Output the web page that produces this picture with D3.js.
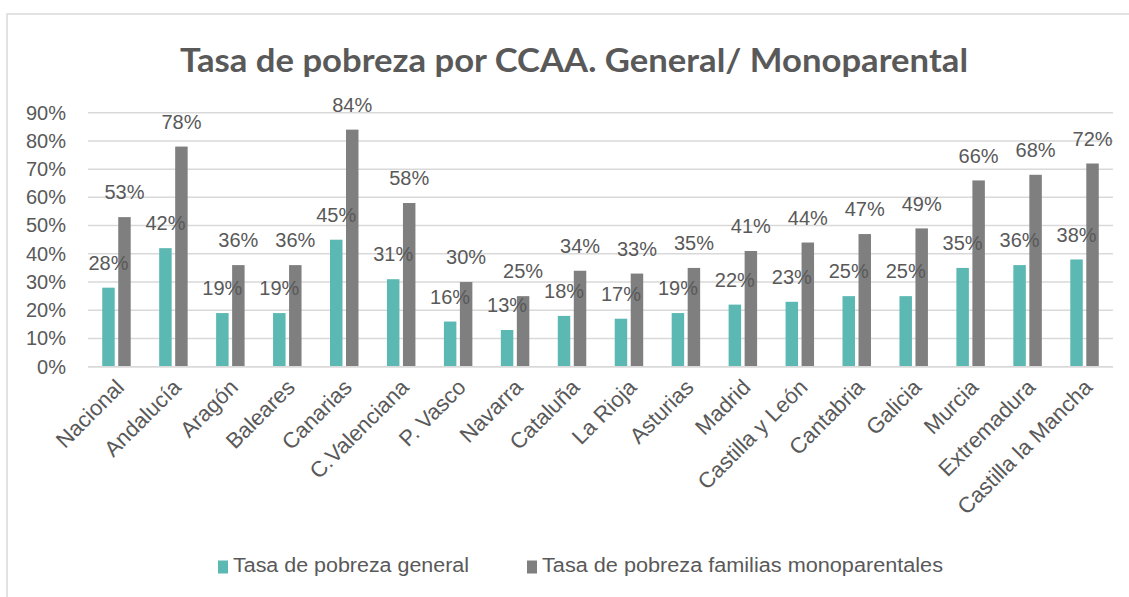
<!DOCTYPE html>
<html>
<head>
<meta charset="utf-8">
<script src="https://cdn.jsdelivr.net/npm/d3@7"></script>
<style>
  html, body { margin: 0; padding: 0; background: #fff; }
</style>
</head>
<body>
<script>
'use strict';

// data
const categories = ['Nacional', 'Andalucía', 'Aragón', 'Baleares', 'Canarias', 'C.Valenciana',
  'P. Vasco', 'Navarra', 'Cataluña', 'La Rioja', 'Asturias', 'Madrid', 'Castilla y León',
  'Cantabria', 'Galicia', 'Murcia', 'Extremadura', 'Castilla la Mancha'];
const general = [0.28, 0.42, 0.19, 0.19, 0.45, 0.31, 0.16, 0.13, 0.18, 0.17, 0.19, 0.22, 0.23, 0.25, 0.25, 0.35, 0.36, 0.38];
const monoparental = [0.53, 0.78, 0.36, 0.36, 0.84, 0.58, 0.30, 0.25, 0.34, 0.33, 0.35, 0.41, 0.44, 0.47, 0.49, 0.66, 0.68, 0.72];
const seriesNames = ['Tasa de pobreza general', 'Tasa de pobreza familias monoparentales'];
const yTicks = [0, 0.1, 0.2, 0.3, 0.4, 0.5, 0.6, 0.7, 0.8, 0.9];

const W = 1129, H = 597;
const TEXT = '#595959';
const COLORS = ['#5BB8B2', '#7F7F7F'];
const GRID = '#D9D9D9';
const FONT = '"Liberation Sans", Arial, sans-serif';

const svg = d3.select('body').append('svg')
  .attr('width', W).attr('height', H)
  .attr('viewBox', `0 0 ${W} ${H}`);
svg.append('rect').attr('width', W).attr('height', H).attr('fill', '#fff');

// chart frame (runs off the right / bottom)
svg.append('rect')
  .attr('x', 7).attr('y', 14).attr('width', W + 10).attr('height', H + 10)
  .attr('fill', 'none').attr('stroke', GRID).attr('stroke-width', 1.5);

// title
svg.append('text')
  .attr('x', 574).attr('y', 72)
  .attr('text-anchor', 'middle')
  .attr('font-family', 'Lato, "Open Sans", sans-serif')
  .attr('font-weight', 700).attr('font-size', 33)
  .attr('fill', TEXT)
  .attr('textLength', 788).attr('lengthAdjust', 'spacingAndGlyphs')
  .text('Tasa de pobreza por CCAA. General/ Monoparental');

const plot = { left: 88, right: 1113, top: 112.7, bottom: 366.7 };

const y = d3.scaleLinear().domain([0, 0.9]).range([plot.bottom, plot.top]);
const x0 = d3.scaleBand().domain(categories).range([plot.left, plot.right]).padding(0);
const step = x0.step();
const x1 = d3.scaleBand().domain([0, 1]).range([step * 0.25, step * 0.75]).paddingInner(0.22);

// gridlines
svg.append('g').selectAll('line').data(yTicks).join('line')
  .attr('x1', plot.left).attr('x2', plot.right)
  .attr('y1', d => y(d)).attr('y2', d => y(d))
  .attr('stroke', GRID).attr('stroke-width', 1.5);

// y axis labels
const yAxis = svg.append('g')
  .attr('transform', `translate(${plot.left - 22},0)`)
  .call(d3.axisLeft(y).tickValues(yTicks).tickFormat(d3.format('.0%')).tickSize(0).tickPadding(0));
yAxis.select('.domain').remove();
yAxis.selectAll('text')
  .attr('font-family', FONT).attr('font-size', 20).attr('fill', TEXT);

// x axis labels
const xAxis = svg.append('g')
  .attr('transform', `translate(0,${plot.bottom})`)
  .call(d3.axisBottom(x0).tickSize(0).tickPadding(0));
xAxis.select('.domain').remove();
xAxis.selectAll('text')
  .attr('font-family', FONT).attr('font-size', 22).attr('fill', TEXT)
  .attr('text-anchor', 'end')
  .attr('dy', null)
  .attr('transform', 'translate(9,22) rotate(-45)');

// bars
const data = [general, monoparental];
const groups = svg.append('g').selectAll('g').data(categories).join('g')
  .attr('transform', d => `translate(${x0(d)},0)`);

groups.selectAll('rect')
  .data((d, i) => data.map((s, k) => ({ k, v: s[i] })))
  .join('rect')
  .attr('x', d => x1(d.k))
  .attr('width', x1.bandwidth())
  .attr('y', d => y(d.v))
  .attr('height', d => y(0) - y(d.v))
  .attr('fill', d => COLORS[d.k]);

groups.selectAll('text.lbl')
  .data((d, i) => data.map((s, k) => ({ k, v: s[i] })))
  .join('text')
  .attr('class', 'lbl')
  .attr('x', d => x1(d.k) + x1.bandwidth() / 2)
  .attr('y', d => y(d.v) - 23)
  .attr('text-anchor', 'middle')
  .attr('dominant-baseline', 'middle')
  .attr('font-family', FONT).attr('font-size', 20)
  .attr('fill', TEXT)
  .text(d => d3.format('.0%')(d.v));

// redraw x baseline on top of bars
svg.append('line')
  .attr('x1', plot.left).attr('x2', plot.right)
  .attr('y1', plot.bottom).attr('y2', plot.bottom)
  .attr('stroke', GRID).attr('stroke-width', 1.5);

// legend
const legendItems = [
  { name: seriesNames[0], color: COLORS[0], x: 218, len: 236 },
  { name: seriesNames[1], color: COLORS[1], x: 527, len: 401 }
];
const lg = svg.append('g').selectAll('g').data(legendItems).join('g')
  .attr('transform', d => `translate(${d.x},567)`);
lg.append('rect')
  .attr('x', 0).attr('y', -6.5).attr('width', 10).attr('height', 13)
  .attr('fill', d => d.color);
lg.append('text')
  .attr('x', 15).attr('y', 0)
  .attr('dominant-baseline', 'middle')
  .attr('font-family', FONT).attr('font-size', 20)
  .attr('fill', TEXT)
  .attr('textLength', d => d.len).attr('lengthAdjust', 'spacingAndGlyphs')
  .text(d => d.name);
</script>
</body>
</html>
